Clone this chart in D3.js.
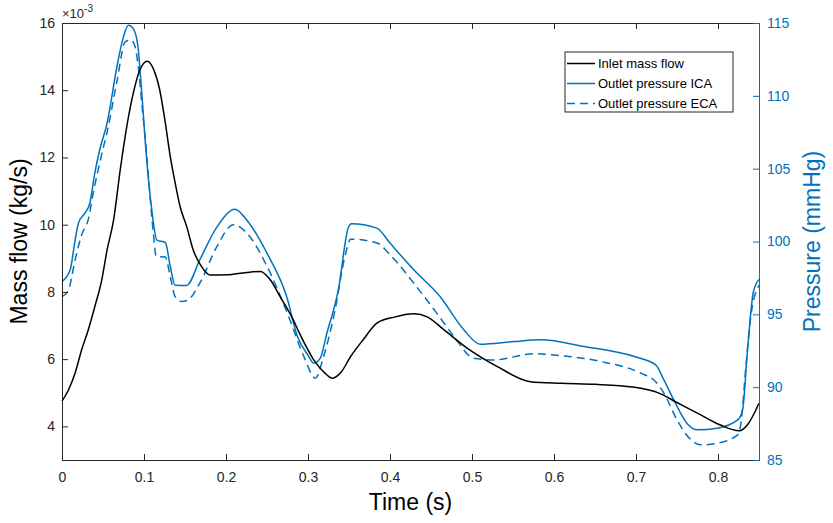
<!DOCTYPE html>
<html>
<head>
<meta charset="utf-8">
<script src="https://cdnjs.cloudflare.com/ajax/libs/d3/7.8.5/d3.min.js"></script>
<style>
  body { margin: 0; background: #fff; }
  svg { font-family: "Liberation Sans", Arial, Helvetica, sans-serif; }
</style>
</head>
<body>
<div id="chart"></div>
<script>
// inlet mass flow, values in 10^-3 kg/s
var flowTime = [0, 0.008, 0.016, 0.024, 0.032, 0.040, 0.0485, 0.055, 0.063, 0.071, 0.079, 0.087, 0.095, 0.104, 0.112, 0.119, 0.126, 0.132, 0.138, 0.144, 0.152, 0.160, 0.170, 0.181, 0.201, 0.225, 0.242, 0.254, 0.266, 0.282, 0.290, 0.307, 0.320, 0.330, 0.340, 0.352, 0.368, 0.384, 0.405, 0.429, 0.446, 0.466, 0.494, 0.531, 0.571, 0.608, 0.650, 0.696, 0.728, 0.750, 0.779, 0.803, 0.826, 0.836, 0.85];
var flowValues = [4.75, 5.09, 5.59, 6.28, 6.87, 7.56, 8.36, 9.25, 10.15, 11.63, 12.92, 13.92, 14.6, 14.86, 14.6, 14.03, 13.03, 12.03, 11.24, 10.54, 9.95, 9.25, 8.76, 8.5, 8.51, 8.58, 8.61, 8.36, 7.86, 7.17, 6.75, 5.98, 5.6, 5.43, 5.6, 6.08, 6.6, 7.07, 7.25, 7.35, 7.25, 6.87, 6.33, 5.78, 5.33, 5.28, 5.25, 5.17, 4.99, 4.71, 4.34, 4.04, 3.87, 4.05, 4.69];

// outlet pressure ICA (mmHg)
var icaTime = [0, 0.010, 0.016, 0.020, 0.028, 0.034, 0.040, 0.046, 0.055, 0.067, 0.075, 0.081, 0.088, 0.093, 0.097, 0.103, 0.109, 0.1157, 0.126, 0.132, 0.138, 0.152, 0.168, 0.189, 0.211, 0.225, 0.250, 0.274, 0.287, 0.300, 0.307, 0.315, 0.323, 0.337, 0.349, 0.353, 0.384, 0.400, 0.429, 0.461, 0.490, 0.510, 0.551, 0.584, 0.637, 0.698, 0.724, 0.734, 0.746, 0.762, 0.775, 0.799, 0.824, 0.830, 0.836, 0.843, 0.85];
var icaValues = [97.25, 98.06, 100.1, 101.26, 101.95, 102.64, 104.7, 106.3, 108.13, 112.0, 114.08, 114.84, 114.5, 113.2, 110.4, 105.8, 102.4, 100.1, 99.93, 98.3, 97.0, 96.98, 98.74, 101.0, 102.22, 101.5, 99.2, 96.22, 93.5, 92.2, 91.65, 92.0, 93.7, 96.68, 100.92, 101.22, 100.92, 99.89, 98.06, 96.22, 93.94, 92.95, 93.13, 93.25, 92.79, 92.1, 91.53, 90.5, 89.13, 87.53, 87.07, 87.18, 87.75, 88.44, 92.56, 96.5, 97.4];

// outlet pressure ECA (mmHg)
var ecaTime = [0, 0.008, 0.016, 0.024, 0.032, 0.038, 0.046, 0.0565, 0.067, 0.077, 0.084, 0.089, 0.093, 0.097, 0.103, 0.111, 0.115, 0.126, 0.132, 0.138, 0.146, 0.154, 0.168, 0.189, 0.209, 0.225, 0.250, 0.276, 0.295, 0.309, 0.319, 0.333, 0.345, 0.352, 0.384, 0.400, 0.429, 0.457, 0.478, 0.502, 0.527, 0.575, 0.608, 0.657, 0.706, 0.724, 0.734, 0.750, 0.765, 0.779, 0.799, 0.824, 0.828, 0.834, 0.840, 0.85];
var ecaValues = [96.22, 96.68, 98.74, 100.46, 101.5, 103.3, 105.4, 107.9, 111.0, 113.7, 113.85, 113.4, 112.0, 109.7, 106.1, 100.8, 98.97, 98.93, 97.6, 96.22, 95.88, 96.0, 97.14, 99.66, 101.15, 100.6, 98.3, 94.9, 92.1, 90.62, 92.1, 95.3, 98.97, 100.16, 99.9, 99.09, 97.14, 95.08, 93.48, 91.99, 91.87, 92.29, 92.17, 91.76, 90.96, 90.38, 89.59, 87.75, 86.5, 86.04, 86.15, 86.73, 87.53, 91.41, 94.85, 97.0];

var xTicks = [0, 0.1, 0.2, 0.3, 0.4, 0.5, 0.6, 0.7, 0.8];
var leftTicks = [4, 6, 8, 10, 12, 14, 16];
var rightTicks = [85, 90, 95, 100, 105, 110, 115];
var legendLabels = ["Inlet mass flow", "Outlet pressure ICA", "Outlet pressure ECA"];

var w = 833, h = 523;
var margin = { top: 23, right: 74, bottom: 63, left: 62 }; // plot box 62..759 x 23..460
var width = w - margin.left - margin.right;
var height = h - margin.top - margin.bottom;
var axisCol = "#262626";
var blue = "#0072BD";

var svg = d3.select("#chart").append("svg")
    .attr("width", w)
    .attr("height", h);

var g = svg.append("g")
    .attr("transform", "translate(" + margin.left + "," + margin.top + ")");

var x = d3.scaleLinear().domain([0, 0.85]).range([0, width]);
var yL = d3.scaleLinear().domain([3, 16]).range([height, 0]);
var yR = d3.scaleLinear().domain([85, 115]).range([height, 0]);

// lines
function pts(ts, vs) { return ts.map((t, i) => [t, vs[i]]); }

var lineL = d3.line().x(d => x(d[0])).y(d => yL(d[1])).curve(d3.curveMonotoneX);
var lineR = d3.line().x(d => x(d[0])).y(d => yR(d[1])).curve(d3.curveMonotoneX);

g.append("path")
    .attr("d", lineR(pts(ecaTime, ecaValues)))
    .attr("fill", "none")
    .attr("stroke", blue)
    .attr("stroke-width", 1.5)
    .attr("stroke-dasharray", "8,5");

g.append("path")
    .attr("d", lineR(pts(icaTime, icaValues)))
    .attr("fill", "none")
    .attr("stroke", blue)
    .attr("stroke-width", 1.5);

g.append("path")
    .attr("d", lineL(pts(flowTime, flowValues)))
    .attr("fill", "none")
    .attr("stroke", "#000")
    .attr("stroke-width", 1.5);

// axes, matlab style ticks pointing inward
var bottomAx = g.append("g")
    .attr("transform", "translate(0," + height + ")")
    .call(d3.axisBottom(x).tickValues(xTicks).tickSize(-6).tickPadding(12).tickFormat(d3.format("")));
var topAx = g.append("g")
    .call(d3.axisTop(x).tickValues(xTicks).tickSize(-6).tickFormat(""));
var leftAx = g.append("g")
    .call(d3.axisLeft(yL).tickValues(leftTicks).tickSize(-6).tickPadding(7));
var rightAx = g.append("g")
    .attr("transform", "translate(" + width + ",0)")
    .call(d3.axisRight(yR).tickValues(rightTicks).tickSize(-6).tickPadding(8));

[bottomAx, topAx, leftAx].forEach(a => {
    a.select(".domain").attr("stroke", axisCol).attr("stroke-width", 1);
    a.selectAll(".tick line").attr("stroke", axisCol).attr("stroke-width", 1);
    a.selectAll("text").attr("fill", axisCol).style("font-size", "14px");
});
rightAx.select(".domain").attr("stroke", blue).attr("stroke-width", 1);
rightAx.selectAll(".tick line").attr("stroke", blue);
rightAx.selectAll("text").attr("fill", blue).style("font-size", "14px");

// exponent
var expo = g.append("text")
    .attr("x", 0)
    .attr("y", -5)
    .attr("fill", axisCol)
    .style("font-size", "13px");
expo.append("tspan").text("\u00d710");
expo.append("tspan").attr("dy", -6).style("font-size", "10px").text("-3");

// axis titles
svg.append("text")
    .attr("transform", "translate(27," + (margin.top + height / 2) + ") rotate(-90)")
    .attr("text-anchor", "middle")
    .attr("fill", "#000")
    .style("font-size", "23px")
    .text("Mass flow (kg/s)");

svg.append("text")
    .attr("x", margin.left + width / 2)
    .attr("y", 510)
    .attr("text-anchor", "middle")
    .attr("fill", "#000")
    .style("font-size", "23px")
    .text("Time (s)");

svg.append("text")
    .attr("transform", "translate(820," + (margin.top + height / 2) + ") rotate(-90)")
    .attr("text-anchor", "middle")
    .attr("fill", blue)
    .style("font-size", "23px")
    .text("Pressure (mmHg)");

// legend
var lg = svg.append("g").attr("transform", "translate(565,52)");
lg.append("rect")
    .attr("width", 168)
    .attr("height", 60)
    .attr("fill", "#fff")
    .attr("stroke", axisCol)
    .attr("stroke-width", 1);

var legStroke = ["#000", blue, blue];
var legDash = [null, null, "8,5"];
legendLabels.forEach((lab, i) => {
    var yy = 11.5 + i * 20;
    lg.append("line")
        .attr("x1", 2).attr("x2", 30)
        .attr("y1", yy).attr("y2", yy)
        .attr("stroke", legStroke[i])
        .attr("stroke-width", 1.5)
        .attr("stroke-dasharray", legDash[i]);
    lg.append("text")
        .attr("x", 33)
        .attr("y", yy)
        .attr("dy", "0.35em")
        .attr("fill", "#000")
        .style("font-size", "13px")
        .text(lab);
});
</script>
</body>
</html>
